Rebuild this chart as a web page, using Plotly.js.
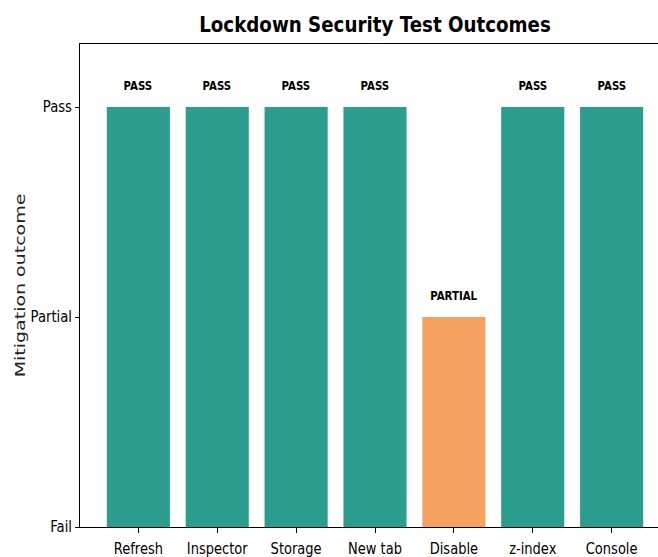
<!DOCTYPE html>
<html><head><meta charset="utf-8">
<script src="https://cdn.plot.ly/plotly-3.0.1.min.js"></script>
<style>
html,body{margin:0;padding:0;overflow:hidden;background:#fff}
</style>
</head><body><div id="chart"></div>
<script>
const categories = ["Refresh","Inspector","Storage","New tab","Disable","z-index","Console"];
const outcomes = [2,2,2,2,1,2,2];
const outcomeLabels = ["PASS","PASS","PASS","PASS","PARTIAL","PASS","PASS"];
const barColors = ["#2a9d8f","#2a9d8f","#2a9d8f","#2a9d8f","#f4a261","#2a9d8f","#2a9d8f"];
const yTickVals = [0,1,2];
const yTickText = ["Fail","Partial","Pass"];

const fam = "DejaVu Sans, sans-serif";
const trace = {
  type: "bar",
  x: categories.map((c,i)=>i),
  y: outcomes,
  width: 0.8,
  marker: {color: barColors, line:{width:0}},
  hoverinfo: "skip"
};
const annotations = categories.map((c,i)=>({
  x: i, y: outcomes[i] + 0.1, xref: "x", yref: "y",
  text: "<b>" + outcomeLabels[i] + "</b>", showarrow: false,
  font: {family: fam, size: 12, color: "#000"},
  xanchor: "center", yanchor: "middle"
}));
const layout = {
  width: 672, height: 557,
  margin: {l: 80, r: 2, t: 44, b: 30},
  paper_bgcolor: "#fff", plot_bgcolor: "#fff",
  showlegend: false,
  title: {text: "<b>Lockdown Security Test Outcomes</b>", x: 0.5, xref: "paper", y: 0.957, yanchor: "middle",
    font: {family: fam, size: 22, color: "#000"}},
  xaxis: {
    range: [-0.74, 6.74], tickmode: "array", tickvals: categories.map((c,i)=>i), ticktext: categories,
    showgrid: false, zeroline: false, showline: true, linecolor: "#000", linewidth: 1, mirror: true,
    ticks: "outside", ticklen: 5, tickcolor: "#000", ticklabelstandoff: 3,
    tickfont: {family: fam, size: 15, color: "#000"}
  },
  yaxis: {
    range: [0, 2.3], tickmode: "array", tickvals: yTickVals, ticktext: yTickText,
    showgrid: false, zeroline: false, showline: true, linecolor: "#000", linewidth: 1, mirror: true,
    ticks: "outside", ticklen: 4, tickcolor: "#000",
    tickfont: {family: fam, size: 15, color: "#000"},
    title: {text: "Mitigation outcome", font: {family: fam, size: 19, color: "#222"}}
  },
  annotations: annotations
};

function squeeze(gd) {
  const groups = [
    [".gtitle", 0.83, "x", 0],
    [".xtick text", 0.87, "x", 0],
    [".ytick text", 0.88, "x", 0],
    [".annotation-text", 0.85, "x", 0],
    [".ytitle", 0.78, "y", 6]
  ];
  groups.forEach(([sel, s, axis, dx]) => {
    gd.querySelectorAll(sel).forEach(el => {
      const base = el.getAttribute("transform") || "";
      const pre = dx ? `translate(${dx},0) ` : "";
      if (axis === "x") {
        const x = parseFloat(el.getAttribute("x")) || 0;
        el.setAttribute("transform", pre + base + ` translate(${x},0) scale(${s},1) translate(${-x},0)`);
      } else {
        const y = parseFloat(el.getAttribute("y")) || 0;
        el.setAttribute("transform", pre + base + ` translate(0,${y}) scale(1,${s}) translate(0,${-y})`);
      }
    });
  });
}
Plotly.newPlot("chart", [trace], layout, {displayModeBar: false, staticPlot: true}).then(squeeze);
</script></body></html>
